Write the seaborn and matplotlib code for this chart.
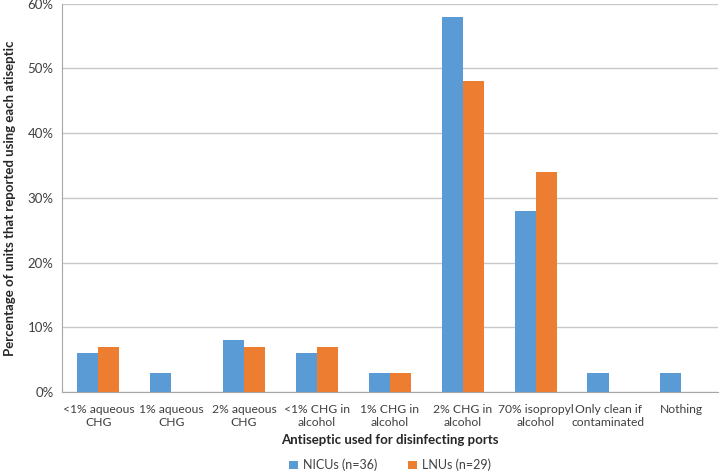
import numpy as np
import pandas as pd
import matplotlib.pyplot as plt
import seaborn as sns
from matplotlib.ticker import PercentFormatter

categories = ["<1% aqueous\nCHG", "1% aqueous\nCHG", "2% aqueous\nCHG", "<1% CHG in\nalcohol",
              "1% CHG in\nalcohol", "2% CHG in\nalcohol", "70% isopropyl\nalcohol",
              "Only clean if\ncontaminated", "Nothing"]
nicu = [6, 3, 8, 6, 3, 58, 28, 3, 3]
lnu = [7, 0, 7, 7, 3, 48, 34, 0, 0]
series_names = ["NICUs (n=36)", "LNUs (n=29)"]
colors = ["#5B9BD5", "#ED7D31"]

df = pd.DataFrame({
    "cat": categories * 2,
    "val": nicu + lnu,
    "unit": [series_names[0]] * len(categories) + [series_names[1]] * len(categories),
})

sns.set_style("white")
plt.rcParams['font.family'] = ['Lato', 'DejaVu Sans']

fig = plt.figure(figsize=(7.2, 4.74), dpi=100)
ax = fig.add_axes([0.086, 0.173, 0.911, 0.819])

sns.barplot(data=df, x="cat", y="val", hue="unit", palette=colors, width=0.58,
            saturation=1, linewidth=0, ax=ax, zorder=3)

ax.set_ylim(0, 60)
ax.set_xlim(-0.5, len(categories) - 0.5)
ax.set_yticks(np.arange(0, 61, 10))
ax.yaxis.set_major_formatter(PercentFormatter(decimals=0))
ax.grid(axis="y", color="#c8c8c8", linewidth=1, zorder=0)
ax.grid(axis="x", visible=False)

for s in ["top", "right"]:
    ax.spines[s].set_visible(False)
ax.spines["left"].set_color("#a6a6a6")
ax.spines["bottom"].set_color("#a6a6a6")

ax.tick_params(axis="y", length=0, labelsize=9.5, colors="#404040", pad=6)
ax.tick_params(axis="x", which="major", length=0, labelsize=8.7, colors="#404040", pad=9)
for lab in ax.get_xticklabels():
    lab.set_multialignment("center")
ax.set_xticks(np.arange(-0.5, len(categories), 1), minor=True)
ax.tick_params(axis="x", which="minor", length=5, color="#a6a6a6")

ax.set_xlabel("Antiseptic used for disinfecting ports", fontsize=9.5, fontweight="bold",
              color="#262626", labelpad=4)
ax.set_ylabel("Percentage of units that reported using each atiseptic", fontsize=9.5,
              fontweight="bold", color="#262626", labelpad=8)

ax.legend(loc="center", bbox_to_anchor=(0.5, -0.188), ncol=2, frameon=False,
          fontsize=9, handlelength=0.7, handleheight=0.7, columnspacing=2.5,
          handletextpad=0.4, labelcolor="#404040")

fig.savefig("out.png", dpi=100)
